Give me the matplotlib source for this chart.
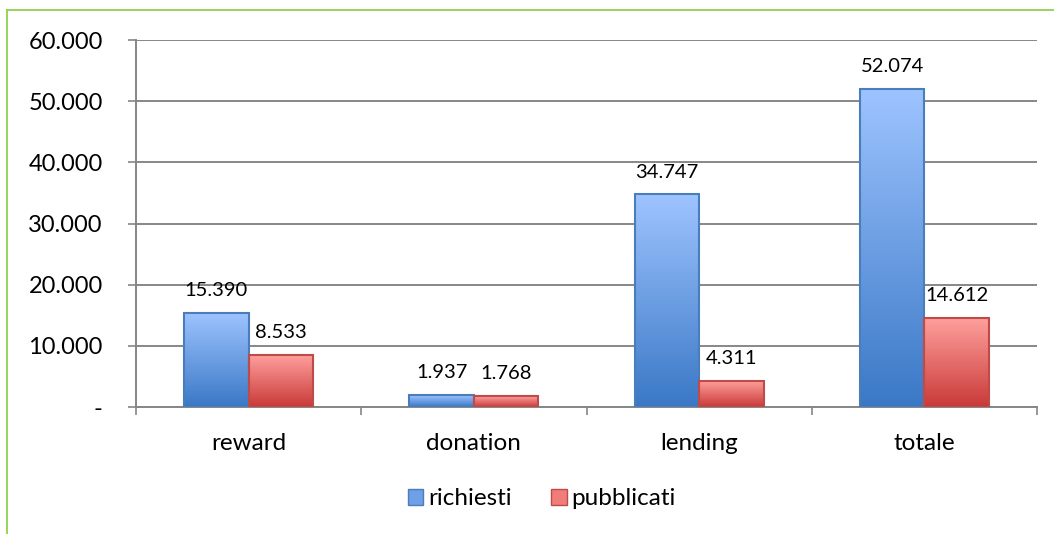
import numpy as np
import matplotlib.pyplot as plt
from matplotlib.colors import LinearSegmentedColormap
from matplotlib.lines import Line2D
from matplotlib.patches import Rectangle

plt.rcParams['font.family'] = ['Lato', 'DejaVu Sans']

categorie = ["reward", "donation", "lending", "totale"]
richiesti = [15390, 1937, 34747, 52074]
pubblicati = [8533, 1768, 4311, 14612]
serie = ["richiesti", "pubblicati"]
yticks = [0, 10000, 20000, 30000, 40000, 50000, 60000]


def fmt(v):
    return "-" if v == 0 else f"{v:,.0f}".replace(",", ".")


blu = LinearSegmentedColormap.from_list("blu", ["#3a78c6", "#9ec4ff"])
rosso = LinearSegmentedColormap.from_list("rosso", ["#c93a38", "#ffa19e"])
grad = np.linspace(0, 1, 256).reshape(-1, 1)

fig = plt.figure(figsize=(10.54, 5.34), dpi=100)
ax = fig.add_axes([0.129, 0.2378, 0.855, 0.6872])

x = np.arange(len(categorie))
w = 0.286


def barre(pos, vals, cmap, edge):
    for xi, v in zip(pos, vals):
        rect = Rectangle((xi - w / 2, 0), w, v, facecolor="none",
                         edgecolor=edge, linewidth=1.5, zorder=4)
        ax.add_patch(rect)
        im = ax.imshow(grad, cmap=cmap, origin="lower", aspect="auto",
                       extent=[xi - w / 2, xi + w / 2, 0, v], zorder=3)
        im.set_clip_path(rect)
        ax.annotate(fmt(v), (xi, v), xytext=(0, 16), textcoords="offset points",
                    ha="center", va="center", fontsize=14.5, color="#000000")


barre(x - w / 2, richiesti, blu, "#4a7ebb")
barre(x + w / 2, pubblicati, rosso, "#be4b48")

ax.set_xlim(-0.5, len(categorie) - 0.5)
ax.set_ylim(0, 60000)
ax.set_yticks(yticks)
ax.set_yticklabels([fmt(v) for v in yticks], fontsize=17)
ax.set_xticks(x)
ax.set_xticklabels(categorie, fontsize=17.5)
ax.set_xticks(np.arange(len(categorie) + 1) - 0.5, minor=True)
ax.tick_params(axis="x", which="major", length=0, pad=19)
ax.tick_params(axis="x", which="minor", length=6, width=1.2, color="#868686")
ax.tick_params(axis="y", length=6, width=1.2, color="#868686", pad=18)
ax.grid(axis="y", color="#878787", linewidth=1.4, zorder=0)
ax.set_axisbelow(True)
for s in ["top", "right"]:
    ax.spines[s].set_visible(False)
for s in ["left", "bottom"]:
    ax.spines[s].set_color("#868686")
    ax.spines[s].set_linewidth(1.4)

handles = [Rectangle((0, 0), 1, 1, facecolor="#6f9fe6", edgecolor="#4a7ebb"),
           Rectangle((0, 0), 1, 1, facecolor="#f07d7a", edgecolor="#be4b48")]
fig.legend(handles, serie, loc="center", bbox_to_anchor=(0.514, 0.066), ncol=2,
           frameon=False, fontsize=17.5, handlelength=0.65, handleheight=0.65,
           handletextpad=0.2, columnspacing=1.6)

# bordo verde del riquadro
fig.add_artist(Line2D([0.0066, 1.0], [0.981, 0.981], color="#92d050", linewidth=1.3))
fig.add_artist(Line2D([0.0066, 0.0066], [0.0, 0.981], color="#92d050", linewidth=1.3))

fig.savefig("out.png", dpi=100)
